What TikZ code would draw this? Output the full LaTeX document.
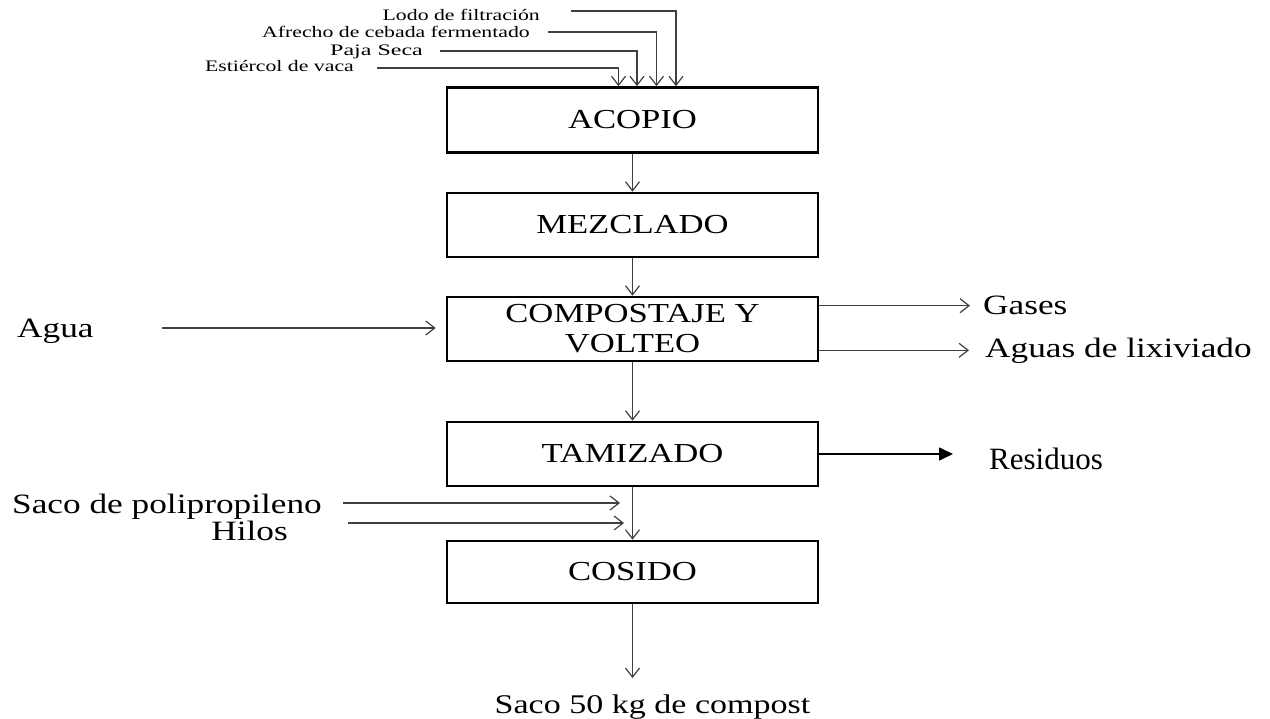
\documentclass[tikz,border=0pt]{standalone}
\usepackage{fontspec}
\usepackage{graphicx}
\setmainfont{Liberation Serif}
\usetikzlibrary{arrows.meta}
% widened lettering used throughout the flow sheet
\newcommand{\wtext}[1]{\scalebox{1.26}[1]{#1}}
\newcommand{\wfeed}[1]{\scalebox{1.36}[1]{#1}}
\tikzset{
  stage/.style={draw, line width=2.6pt, minimum width=371pt, minimum height=64pt,
    inner sep=0pt, align=center, font=\fontsize{27.5}{30}\selectfont},
  lbl/.style={inner sep=0pt, font=\fontsize{28}{30}\selectfont},
  feed/.style={inner sep=0pt, font=\fontsize{16}{18}\selectfont},
  flow/.style={draw=black!75, line width=1.2pt, -{Straight Barb[length=9pt,width=14pt]}},
  solidflow/.style={draw=black, line width=1.6pt, -{Triangle[length=14pt,width=13pt]}}
}
\begin{document}
\begin{tikzpicture}[x=1pt,y=-1pt]
\useasboundingbox (0,0) rectangle (1270,719);

% process stages
\node[stage, minimum height=65pt] (acopio) at (632.5,120) {\wtext{ACOPIO}};
\node[stage] (mezcla) at (632.5,225) {\wtext{MEZCLADO}};
\node[stage, minimum height=64pt] (comp) at (632.5,329) {\wtext{COMPOSTAJE Y}\\\wtext{VOLTEO}};
\node[stage] (tam) at (632.5,454) {\wtext{TAMIZADO}};
\node[stage, minimum height=62pt] (cos) at (632.5,572) {\wtext{COSIDO}};

% raw materials entering the collection stage
\node[feed, anchor=base east] (lodo) at (540,21) {\wfeed{Lodo de filtración}};
\node[feed, anchor=base east] (afrecho) at (530,38) {\wfeed{Afrecho de cebada fermentado}};
\node[feed, anchor=base east] (paja) at (423,56) {\scalebox{1.5}[1]{Paja Seca}};
\node[feed, anchor=base east] (estiercol) at (354,72) {\wfeed{Estiércol de vaca}};
\coordinate (lodoIn) at (571,11);
\coordinate (afrechoIn) at (548,32);
\coordinate (pajaIn) at (440,51);
\coordinate (estiercolIn) at (377,68);
\draw[flow] (lodoIn) -| ([xshift=43.5pt]acopio.north);
\draw[flow] (afrechoIn) -| ([xshift=24pt]acopio.north);
\draw[flow] (pajaIn) -| ([xshift=4.5pt]acopio.north);
\draw[flow] (estiercolIn) -| ([xshift=-14pt]acopio.north);

% main line
\draw[flow] (acopio) -- (mezcla);
\draw[flow] (mezcla) -- (comp);
\draw[flow] (comp) -- (tam);
\draw[flow] (tam) -- (cos);

% composting: water in, gases and leachate out
\node[lbl, anchor=base west] (agua) at (17,338) {\wtext{Agua}};
\coordinate (aguaIn) at (162,328);
\draw[flow, shorten >=10pt] (aguaIn) -- (aguaIn -| comp.west);
\node[lbl, anchor=base west] (gases) at (983,315) {\wtext{Gases}};
\node[lbl, anchor=base west] (aguas) at (985,358) {\wtext{Aguas de lixiviado}};
\draw[flow, shorten >=13pt] ([yshift=-10pt]comp.north east) -- ([yshift=-10pt]comp.north east -| gases.west);
\draw[flow, shorten >=16pt] ([yshift=12pt]comp.south east) -- ([yshift=12pt]comp.south east -| aguas.west);

% screening rejects
\node[inner sep=0pt, anchor=west, font=\fontsize{31}{34}\selectfont] (res) at (989,459) {Residuos};
\draw[solidflow, shorten >=36pt] (tam.east) -- (tam.east -| res.west);

% packaging materials
\node[lbl, anchor=base east] (saco) at (322,513) {\wtext{Saco de polipropileno}};
\node[lbl, anchor=base east] (hilos) at (288,540) {\wtext{Hilos}};
\coordinate (sacoIn) at (343,503);
\coordinate (hilosIn) at (348,523);
\draw[flow, shorten >=12.5pt] (sacoIn) -- (sacoIn -| tam.south);
\draw[flow, shorten >=8.5pt] (hilosIn) -- (hilosIn -| tam.south);

% product
\node[lbl, anchor=base, font=\fontsize{27}{30}\selectfont] (final) at (652.5,713) {\wtext{Saco 50 kg de compost}};
\draw[flow, shorten >=16pt] (cos.south) -- (cos.south |- final.north);
\end{tikzpicture}
\end{document}
